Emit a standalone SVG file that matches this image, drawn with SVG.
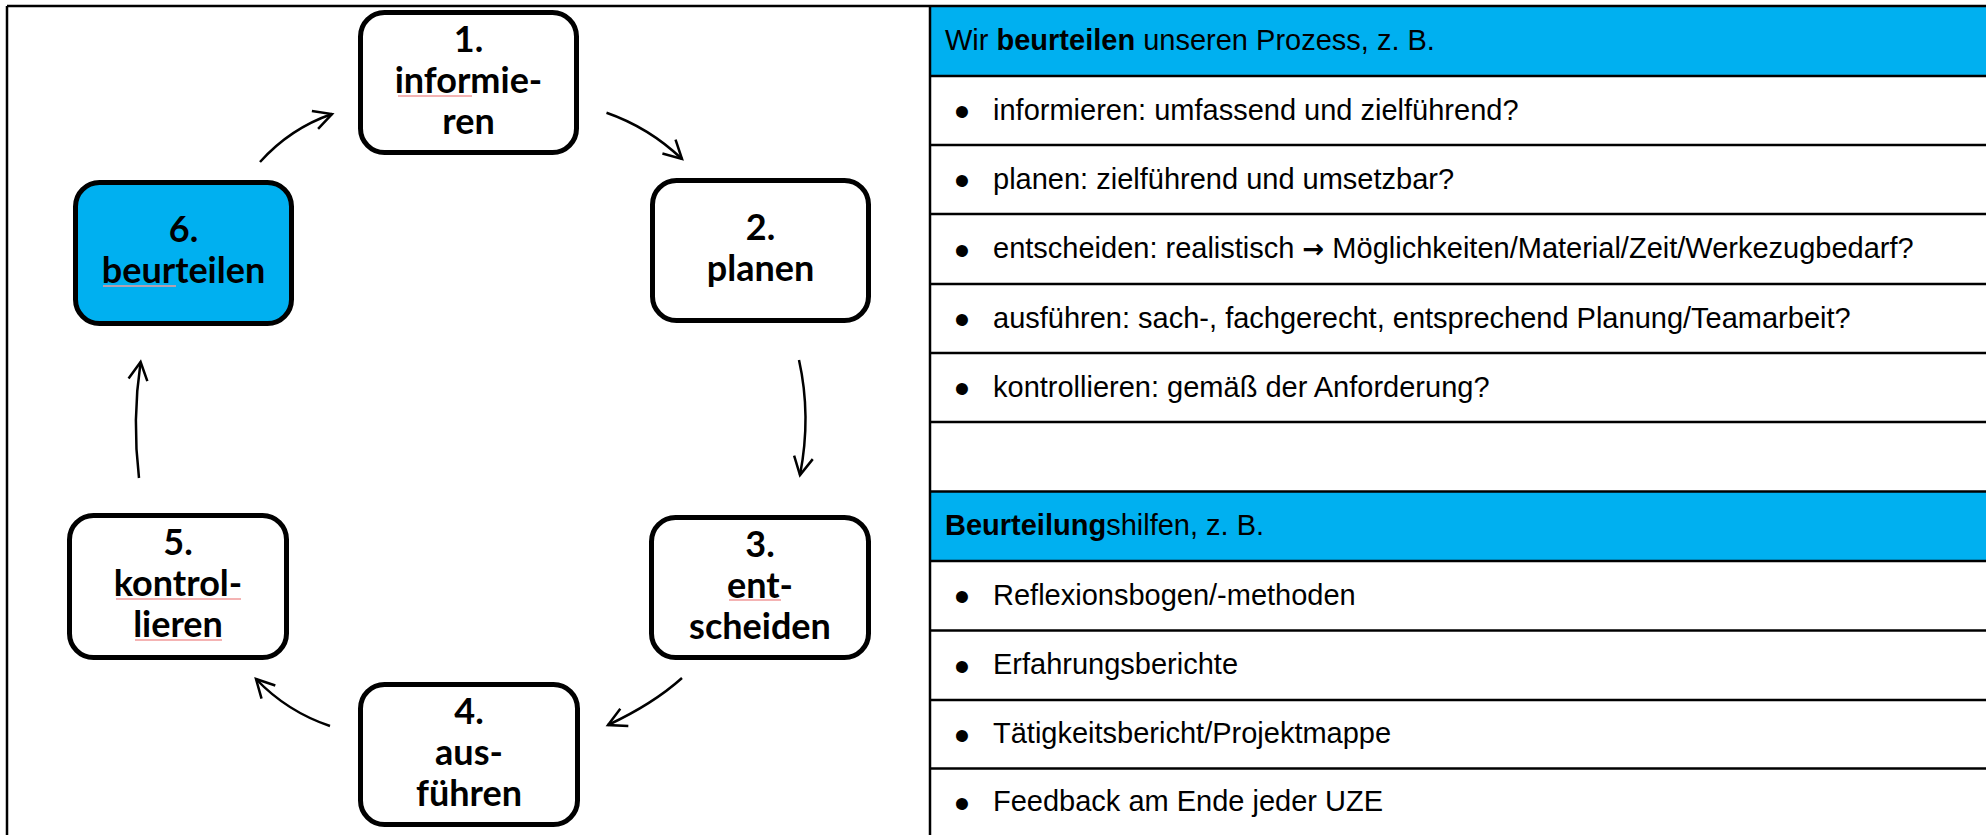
<svg xmlns="http://www.w3.org/2000/svg" width="1986" height="835" viewBox="0 0 1986 835">
<style>
.frame{stroke:#000;stroke-width:2.5;fill:none}
.node{fill:#fff;stroke:#000;stroke-width:5}
.node.hl{fill:#00b0f0}
.nt{font-family:Lato,"Liberation Sans",sans-serif;font-weight:bold;font-size:36px;fill:#000;text-anchor:middle}
.tt{font-family:"Liberation Sans",Arial,sans-serif;font-size:29px;fill:#000}
.bul{font-family:"Liberation Sans",Arial,sans-serif;font-size:44px;fill:#000;text-anchor:middle}
.b{font-weight:bold}
.arr{font-family:"DejaVu Sans",sans-serif;font-weight:bold;font-size:26px}
.spell{stroke:#f19a9a;stroke-width:1.5}
.conn{fill:none;stroke:#000;stroke-width:2.5;marker-end:url(#ah)}
</style>
<defs>
<marker id="ah" markerUnits="userSpaceOnUse" markerWidth="30" markerHeight="30" viewBox="-25 -15 30 30" refX="0" refY="0" orient="auto" overflow="visible">
<path d="M-18,-9.5 L0,0 L-18,9.5" fill="none" stroke="#000" stroke-width="2.5" stroke-linejoin="miter"/>
</marker>
</defs>
<rect x="0" y="0" width="1986" height="835" fill="#fff"/>

<g id="table">
<rect x="930" y="6" width="1056" height="70" fill="#00b0f0"/>
<rect x="930" y="491.5" width="1056" height="69.5" fill="#00b0f0"/>
<g class="frame">
<line x1="7" y1="6" x2="1986" y2="6"/>
<line x1="7" y1="6" x2="7" y2="835"/>
<line x1="930" y1="6" x2="930" y2="835"/>
<line x1="930" y1="76" x2="1986" y2="76"/>
<line x1="930" y1="145" x2="1986" y2="145"/>
<line x1="930" y1="214" x2="1986" y2="214"/>
<line x1="930" y1="284" x2="1986" y2="284"/>
<line x1="930" y1="353" x2="1986" y2="353"/>
<line x1="930" y1="422" x2="1986" y2="422"/>
<line x1="930" y1="491.5" x2="1986" y2="491.5"/>
<line x1="930" y1="561" x2="1986" y2="561"/>
<line x1="930" y1="630.5" x2="1986" y2="630.5"/>
<line x1="930" y1="700" x2="1986" y2="700"/>
<line x1="930" y1="768.5" x2="1986" y2="768.5"/>
</g>
<text class="tt" x="945" y="50">Wir <tspan class="b">beurteilen</tspan> unseren Prozess, z. B.</text>
<text class="bul" x="962" y="127">•</text><text class="tt" x="993" y="119.5">informieren: umfassend und zielführend?</text>
<text class="bul" x="962" y="196">•</text><text class="tt" x="993" y="188.5">planen: zielführend und umsetzbar?</text>
<text class="bul" x="962" y="265.5">•</text><text class="tt" x="993" y="258">entscheiden: realistisch <tspan class="arr">→</tspan> Möglichkeiten/Material/Zeit/Werkezugbedarf?</text>
<text class="bul" x="962" y="335">•</text><text class="tt" x="993" y="327.5">ausführen: sach-, fachgerecht, entsprechend Planung/Teamarbeit?</text>
<text class="bul" x="962" y="404">•</text><text class="tt" x="993" y="396.5">kontrollieren: gemäß der Anforderung?</text>
<text class="tt" x="945" y="535"><tspan class="b">Beurteilung</tspan>shilfen, z. B.</text>
<text class="bul" x="962" y="612">•</text><text class="tt" x="993" y="604.5">Reflexionsbogen/-methoden</text>
<text class="bul" x="962" y="681.5">•</text><text class="tt" x="993" y="674">Erfahrungsberichte</text>
<text class="bul" x="962" y="750.5">•</text><text class="tt" x="993" y="743">Tätigkeitsbericht/Projektmappe</text>
<text class="bul" x="962" y="818.5">•</text><text class="tt" x="993" y="811">Feedback am Ende jeder UZE</text>
</g>

<g id="node1">
<rect class="node" x="360.5" y="12.5" width="216" height="140" rx="24"/>
<text class="nt" x="468.5" y="52">1.</text>
<text class="nt" x="468.5" y="93">informie-</text>
<text class="nt" x="468.5" y="134">ren</text>
<line class="spell" x1="398" y1="96" x2="472" y2="96"/>
</g>
<g id="node2">
<rect class="node" x="652.5" y="180.5" width="216" height="140" rx="24"/>
<text class="nt" x="760.5" y="240">2.</text>
<text class="nt" x="760.5" y="281">planen</text>
</g>
<g id="node3">
<rect class="node" x="651.5" y="517.5" width="217" height="140" rx="24"/>
<text class="nt" x="760" y="557">3.</text>
<text class="nt" x="760" y="598">ent-</text>
<text class="nt" x="760" y="639">scheiden</text>
<line class="spell" x1="729" y1="600" x2="781" y2="600"/>
</g>
<g id="node4">
<rect class="node" x="360.5" y="684.5" width="217" height="140" rx="24"/>
<text class="nt" x="469" y="724">4.</text>
<text class="nt" x="469" y="765">aus-</text>
<text class="nt" x="469" y="806">führen</text>
</g>
<g id="node5">
<rect class="node" x="69.5" y="515.5" width="217" height="142" rx="24"/>
<text class="nt" x="178" y="555">5.</text>
<text class="nt" x="178" y="596">kontrol-</text>
<text class="nt" x="178" y="637">lieren</text>
<line class="spell" x1="116" y1="599" x2="241" y2="599"/>
<line class="spell" x1="135" y1="640" x2="222" y2="640"/>
</g>
<g id="node6">
<rect class="node hl" x="75.5" y="182.5" width="216" height="141" rx="24"/>
<text class="nt" x="183.5" y="242">6.</text>
<text class="nt" x="183.5" y="283">beurteilen</text>
<line class="spell" x1="103" y1="286" x2="176" y2="286"/>
</g>

<g id="connectors">
<path class="conn" d="M260,162 Q290,128.5 332,114"/>
<path class="conn" d="M606.5,112.7 Q649,127.5 682,159"/>
<path class="conn" d="M799,360 Q811.5,416 800,475"/>
<path class="conn" d="M682,678 Q653,704 608,725"/>
<path class="conn" d="M330,726 Q287,711.5 256,679"/>
<path class="conn" d="M139,478 Q132,420 140.6,362"/>
</g>
</svg>
